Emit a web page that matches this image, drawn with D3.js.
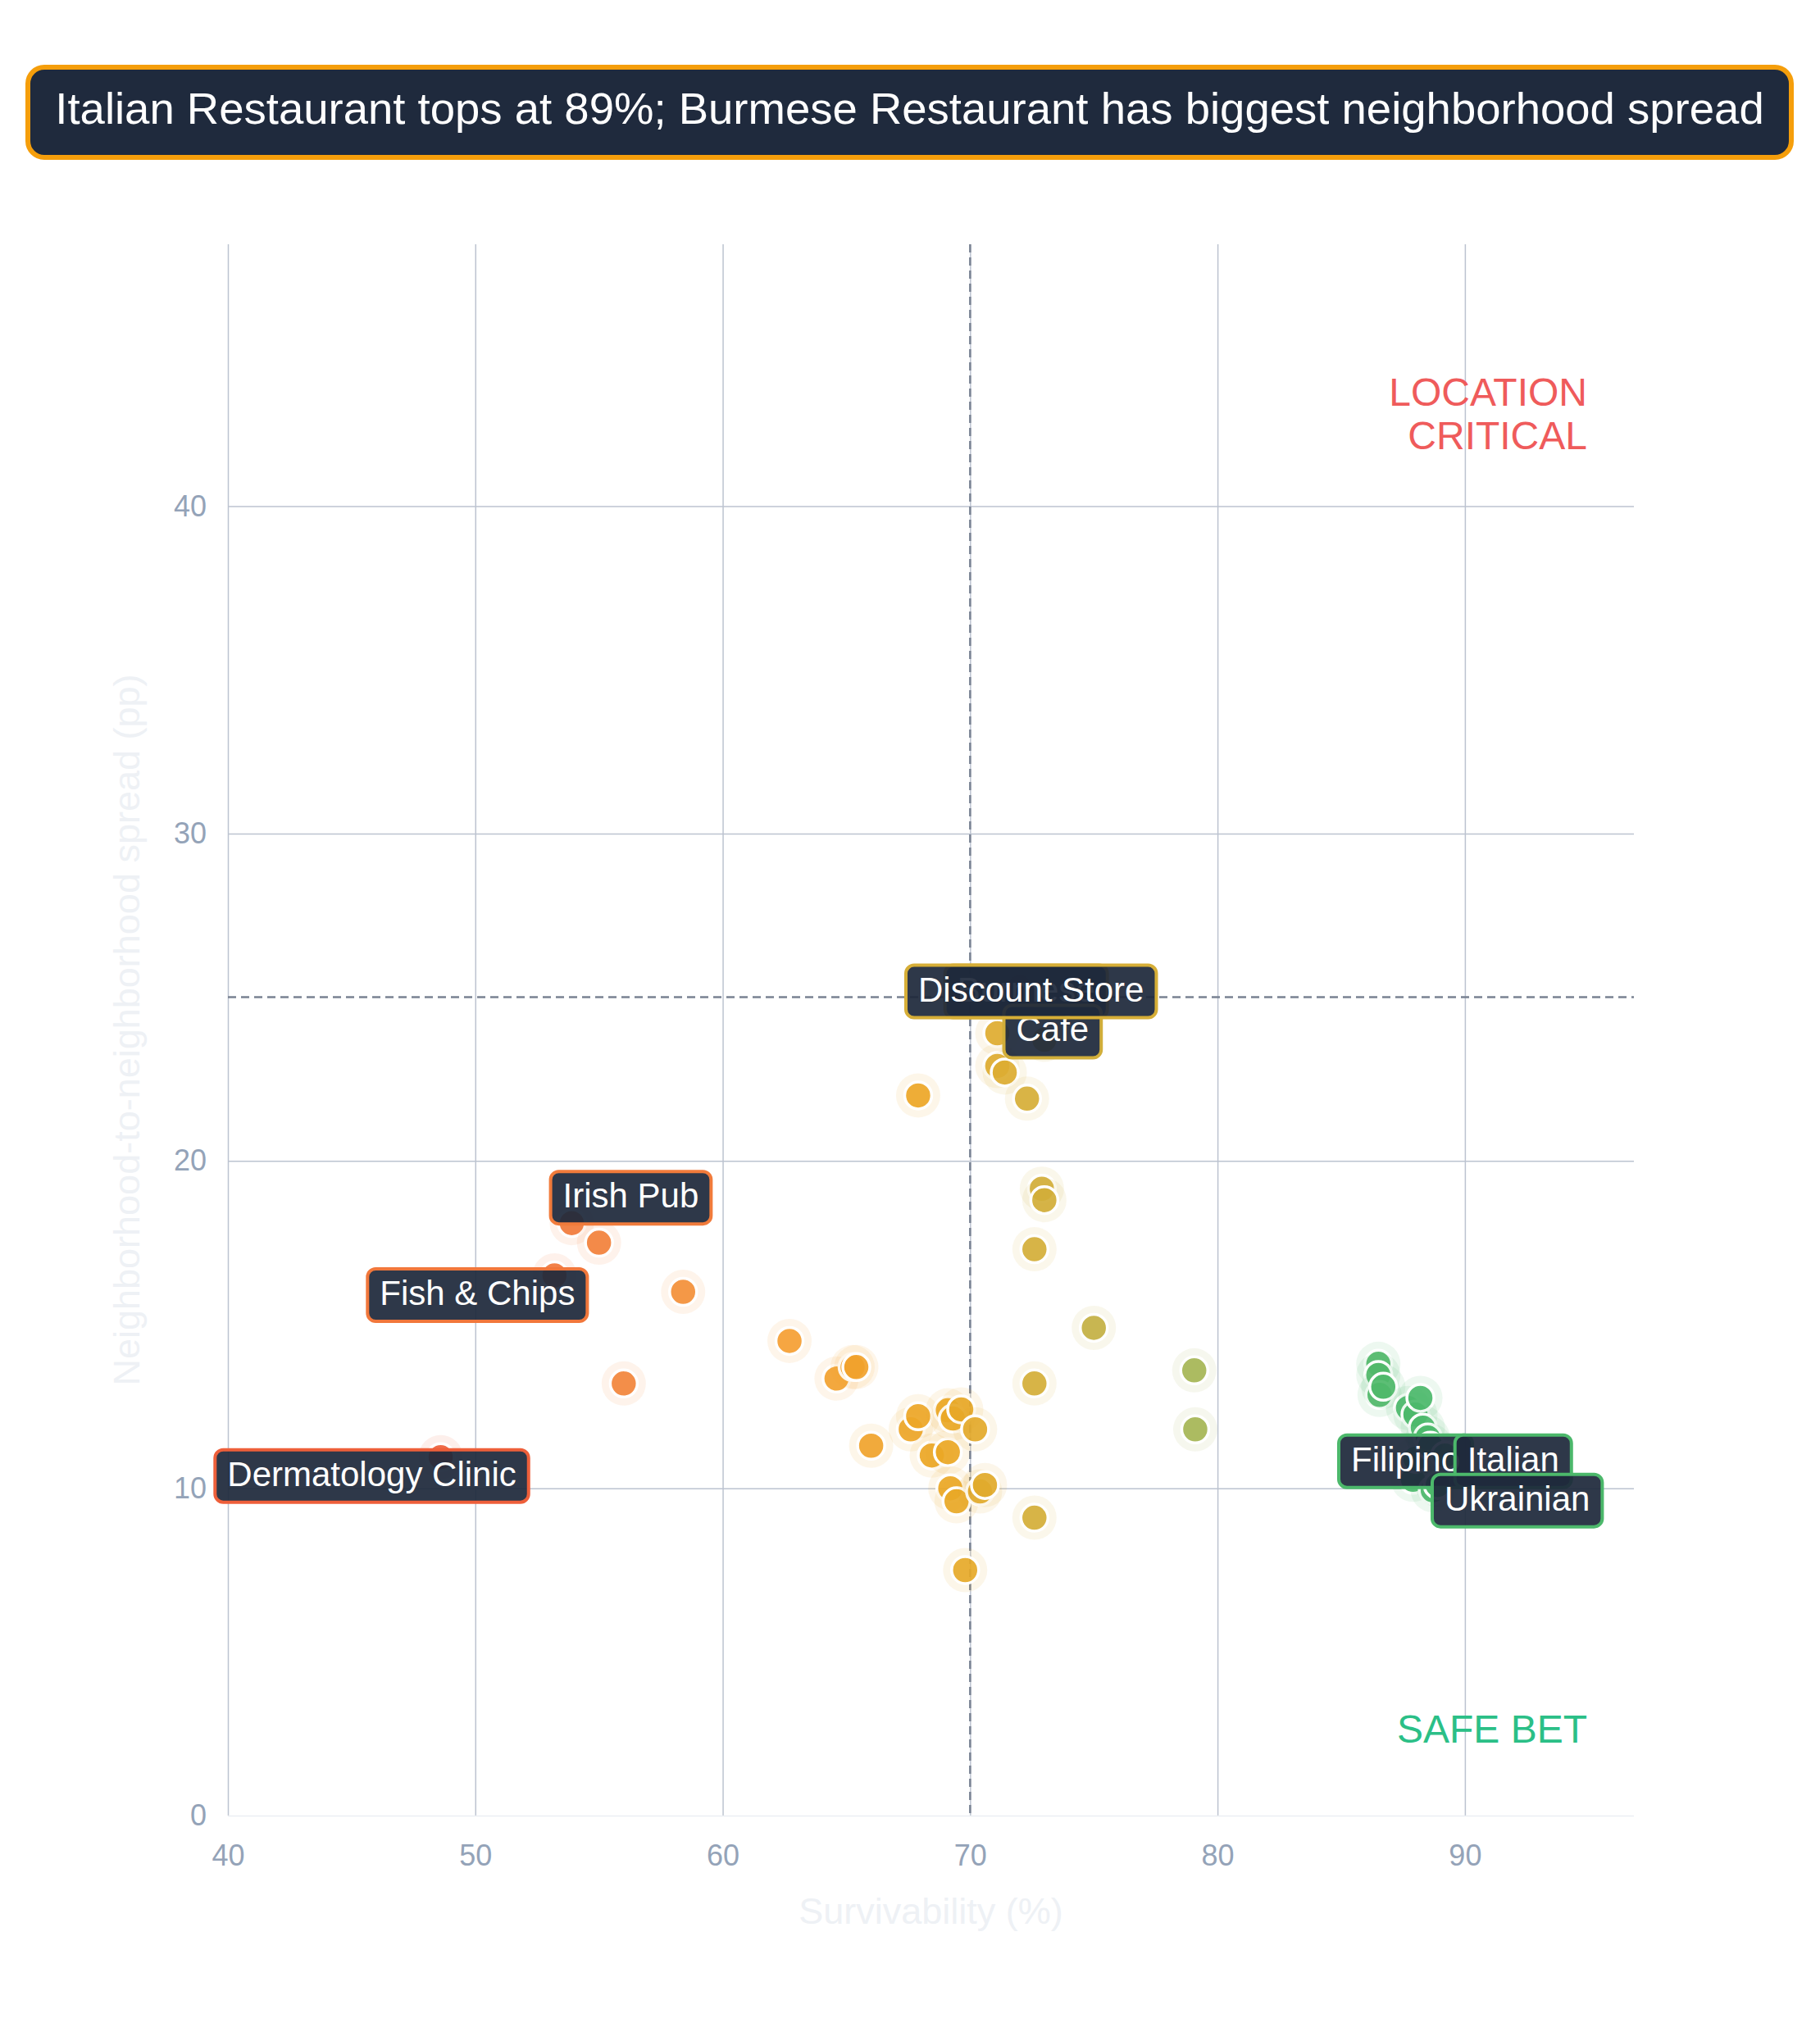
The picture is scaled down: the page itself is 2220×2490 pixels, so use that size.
<!DOCTYPE html>
<html>
<head>
<meta charset="utf-8">
<script src="https://cdn.jsdelivr.net/npm/d3@7"></script>
<style>
  body { margin: 0; background: #fff; }
  svg { display: block; }
</style>
</head>
<body>
<div id="chart"></div>
<script>
// labelled categories (short names as shown on the chart)
var labelNames = ["Dermatology Clinic", "Fish & Chips", "Irish Pub", "Burmese", "Cafe", "Discount Store", "Filipino", "Italian", "Ukrainian"];
var labelSurvival = [48.6, 53.2, 53.9, 72.0, 73.0, 72.3, 88.0, 89.2, 88.9];
var labelSpread = [10.95, 16.5, 18.1, 25.3, 23.7, 25.0, 10.9, 11.0, 10.1];

// every other category (unlabelled dots)
var survival = [55.0, 56.0, 58.4, 62.7, 64.6, 65.25, 65.4, 66.0, 67.6, 67.9, 67.9, 68.45, 69.1, 69.3, 69.64, 69.1, 69.2, 69.45, 69.8, 70.2, 70.4, 70.6, 71.1, 71.1, 71.4, 72.3, 72.9, 73.0, 72.6, 72.6, 72.6, 75.0, 79.06, 79.1, 86.5, 86.5, 86.7, 86.55, 88.2, 87.7, 88.0, 88.3, 88.5, 88.6, 87.9, 88.7];
var spread = [17.5, 13.2, 16.0, 14.5, 13.35, 13.7, 13.7, 11.3, 11.8, 12.2, 22.0, 11.0, 12.38, 12.13, 12.41, 11.1, 10.0, 9.6, 7.5, 11.8, 9.9, 10.1, 23.9, 22.9, 22.7, 21.9, 19.15, 18.8, 17.3, 13.2, 9.1, 14.9, 13.6, 11.8, 13.8, 13.46, 13.1, 12.85, 12.76, 12.45, 12.25, 11.85, 11.55, 11.3, 10.26, 9.94];

var xTicks = [40, 50, 60, 70, 80, 90];
var yTicks = [0, 10, 20, 30, 40];
var survivalCut = 70;
var spreadCut = 25;

var title = "Italian Restaurant tops at 89%; Burmese Restaurant has biggest neighborhood spread";

var W = 2220, H = 2490;
var margin = { top: 298, right: 227, bottom: 275, left: 278 };
var font = "'Liberation Sans', Arial, Helvetica, sans-serif";

// where each label box sits relative to its dot (px)
var labelShift = {
    "Dermatology Clinic": [-84, 23],
    "Fish & Chips": [-94, 24],
    "Irish Pub": [72, -31],
    "Burmese": [8, 5],
    "Cafe": [10, -10],
    "Discount Store": [5, -7],
    "Filipino": [-12, 3],
    "Italian": [83, 7],
    "Ukrainian": [97, 19]
};

var svg = d3.select('#chart')
    .append('svg')
    .attr('width', W)
    .attr('height', H)
    .style('font-family', font);

svg.append('rect').attr('width', W).attr('height', H).attr('fill', '#fff');

var x = d3.scaleLinear()
    .domain([40, 96.83])
    .range([margin.left, W - margin.right]);
var y = d3.scaleLinear()
    .domain([0, 48])
    .range([H - margin.bottom, margin.top]);

var color = d3.scaleLinear()
    .domain([48, 56, 63, 69, 72.5, 75, 79, 87])
    .range(['#ee5c3a', '#f2863b', '#f59f33', '#eba724', '#d5ae38', '#c3b043', '#a6b555', '#4cb86b'])
    .clamp(true);

// grid + tick labels
var gx = svg.append('g')
    .attr('transform', `translate(0, ${y(0)})`)
    .call(d3.axisBottom(x).tickValues(xTicks).tickSize(-(y(0) - y(48))).tickPadding(35));
var gy = svg.append('g')
    .attr('transform', `translate(${x(40)}, 0)`)
    .call(d3.axisLeft(y).tickValues(yTicks).tickSize(-(x(96.83) - x(40))).tickPadding(26));

[gx, gy].forEach(g => {
    g.select('.domain').remove();
    g.selectAll('line').attr('stroke', '#bcc3d0').attr('stroke-width', 1.5);
    g.selectAll('text')
        .attr('fill', '#94a3b8')
        .style('font-size', '36px')
        .style('font-family', font);
});
gy.selectAll('.tick').filter(d => d === 0).select('line').attr('stroke', '#eceff3');

// axis titles (very faint)
svg.append('text')
    .attr('x', (x(40) + x(96.83)) / 2)
    .attr('y', 2347)
    .attr('text-anchor', 'middle')
    .attr('fill', '#eef1f5')
    .style('font-size', '45px')
    .text('Survivability (%)');
svg.append('text')
    .attr('transform', `translate(170, ${(y(0) + y(48)) / 2}) rotate(-90)`)
    .attr('text-anchor', 'middle')
    .attr('fill', '#eef1f5')
    .style('font-size', '45px')
    .text('Neighborhood-to-neighborhood spread (pp)');

// threshold lines
svg.append('line')
    .attr('x1', x(survivalCut)).attr('x2', x(survivalCut))
    .attr('y1', y(48)).attr('y2', y(0))
    .attr('stroke', '#7a8393').attr('stroke-width', 2.5)
    .attr('stroke-dasharray', '10,6');
svg.append('line')
    .attr('x1', x(40)).attr('x2', x(96.83))
    .attr('y1', y(spreadCut)).attr('y2', y(spreadCut))
    .attr('stroke', '#7a8393').attr('stroke-width', 2.5)
    .attr('stroke-dasharray', '10,6');

// quadrant captions
svg.append('text')
    .attr('x', 1936).attr('y', 495)
    .attr('text-anchor', 'end')
    .attr('fill', '#ef5b5b')
    .style('font-size', '48px')
    .selectAll('tspan')
    .data(['LOCATION', 'CRITICAL'])
    .enter()
    .append('tspan')
    .attr('x', 1936)
    .attr('dy', (d, i) => i ? 53 : 0)
    .text(d => d);
svg.append('text')
    .attr('x', 1936).attr('y', 2126)
    .attr('text-anchor', 'end')
    .attr('fill', '#2bbf87')
    .style('font-size', '48px')
    .text('SAFE BET');

// dots
var points = survival.map((v, i) => ({ sx: v, sp: spread[i] }))
    .concat(labelNames.map((n, i) => ({ sx: labelSurvival[i], sp: labelSpread[i], name: n })))
    .sort((a, b) => a.sx - b.sx);

var dot = svg.append('g').selectAll('g')
    .data(points)
    .enter()
    .append('g')
    .attr('transform', d => `translate(${x(d.sx)}, ${y(d.sp)})`);

dot.append('circle')
    .attr('r', 27)
    .attr('fill', d => color(d.sx))
    .attr('fill-opacity', 0.1);
dot.append('circle')
    .attr('r', 16.5)
    .attr('fill', d => color(d.sx))
    .attr('fill-opacity', 0.92)
    .attr('stroke', '#fff')
    .attr('stroke-width', 3.5);

// labels
labelNames.forEach((n, i) => {
    var cx = x(labelSurvival[i]) + labelShift[n][0];
    var cy = y(labelSpread[i]) + labelShift[n][1];
    var g = svg.append('g').attr('transform', `translate(${cx}, ${cy})`);
    var box = g.append('rect');
    var t = g.append('text')
        .attr('text-anchor', 'middle')
        .attr('y', 12)
        .attr('fill', '#fff')
        .style('font-size', '42px')
        .text(n);
    var w = t.node().getComputedTextLength() + 30;
    box.attr('x', -w / 2).attr('y', -32)
        .attr('width', w).attr('height', 64)
        .attr('rx', 10)
        .attr('fill', '#1e293b')
        .attr('fill-opacity', 0.93)
        .attr('stroke', color(labelSurvival[i]))
        .attr('stroke-width', 4);
});

// headline box
var head = svg.append('g');
head.append('rect')
    .attr('x', 34).attr('y', 82)
    .attr('width', 2151).attr('height', 110)
    .attr('rx', 20)
    .attr('fill', '#1f2a3d')
    .attr('stroke', '#f59e0b')
    .attr('stroke-width', 6);
head.append('text')
    .attr('x', 1109.5).attr('y', 151)
    .attr('text-anchor', 'middle')
    .attr('fill', '#fff')
    .style('font-size', '54.5px')
    .text(title);
</script>
</body>
</html>
